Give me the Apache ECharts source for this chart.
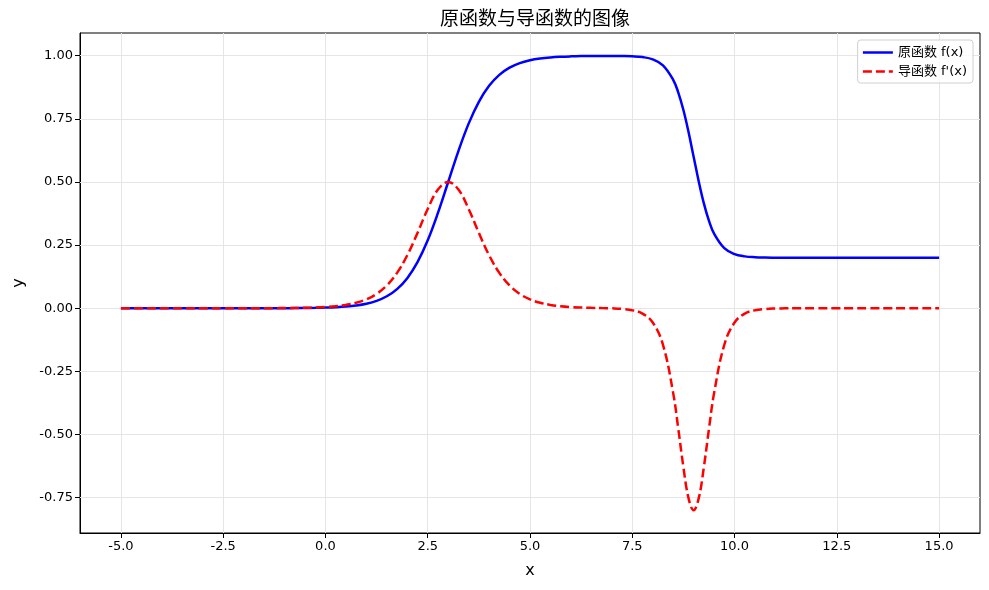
<!DOCTYPE html>
<html>
<head>
<meta charset="utf-8">
<script src="https://cdn.jsdelivr.net/npm/echarts@6/dist/echarts.min.js"></script>
<style>html,body{margin:0;padding:0;background:#fff}#c{width:989px;height:590px}</style>
</head>
<body>
<div id="c"></div>
<script>
const titleText = '原函数与导函数的图像';
const nameF = '原函数 f(x)';
const nameD = "导函数 f'(x)";
const xTicks = [-5, -2.5, 0, 2.5, 5, 7.5, 10, 12.5, 15];
const yTicks = [-0.75, -0.5, -0.25, 0, 0.25, 0.5, 0.75, 1.0];
const xs = [-5,-4.75,-4.5,-4.25,-4,-3.75,-3.5,-3.25,-3,-2.75,-2.5,-2.25,-2,-1.75,-1.5,-1.25,-1,-0.75,-0.5,-0.25,
  0,0.25,0.5,0.75,1,1.25,1.5,1.75,2,2.25,2.5,2.75,3,3.25,3.5,3.75,4,4.25,4.5,4.75,5,5.25,5.5,5.75,6,6.25,6.5,6.75,
  7,7.25,7.5,7.75,8,8.25,8.5,8.625,8.75,8.875,9,9.125,9.25,9.375,9.5,9.75,10,10.25,10.5,10.75,11,11.25,11.5,11.75,
  12,12.25,12.5,12.75,13,13.25,13.5,13.75,14,14.25,14.5,14.75,15];
const fVals = [0,0,0,0,0,0,0,0,0,0,0,0,0,0.0001,0.0001,0.0002,0.0003,0.0006,0.0009,0.0015,
  0.0025,0.0041,0.0067,0.0110,0.0180,0.0293,0.0474,0.0759,0.1192,0.1824,0.2689,0.3775,0.5,0.6225,0.7311,0.8176,0.8808,0.9241,0.9526,0.9707,0.9820,0.9890,0.9933,0.9959,0.9975,0.9985,0.9991,0.9993,
  0.9994,0.9991,0.9979,0.9946,0.9856,0.9620,0.9046,0.8541,0.7849,0.6980,0.6,0.5020,0.4152,0.3459,0.2954,0.2379,0.2144,0.2054,0.2020,0.2007,0.2003,0.2001,0.2000,0.2,
  0.2,0.2,0.2,0.2,0.2,0.2,0.2,0.2,0.2,0.2,0.2,0.2,0.2];
const dVals = [0,0,0,0,0,0,0,0,0,0,0,0.0001,0.0001,0.0001,0.0002,0.0004,0.0007,0.0011,0.0018,0.0030,
  0.0049,0.0081,0.0133,0.0217,0.0353,0.0569,0.0904,0.1402,0.2100,0.2983,0.3932,0.4700,0.5,0.4700,0.3932,0.2983,0.2100,0.1402,0.0904,0.0569,0.0353,0.0217,0.0133,0.0081,0.0049,0.0030,0.0017,0.0007,
  -0.0004,-0.0025,-0.0076,-0.0211,-0.0564,-0.1446,-0.3360,-0.4773,-0.6292,-0.7520,-0.8,-0.7520,-0.6292,-0.4773,-0.3360,-0.1446,-0.0564,-0.0211,-0.0079,-0.0029,-0.0011,-0.0004,-0.0001,0,
  0,0,0,0,0,0,0,0,0,0,0,0,0];

const fData = xs.map((x, i) => [x, fVals[i]]);
const dData = xs.map((x, i) => [x, dVals[i]]);
const font = 'DejaVu Sans';
const cjk = '"DejaVu Sans", "Noto Sans CJK SC"';

const chart = echarts.init(document.getElementById('c'), null, {renderer: 'canvas'});
chart.setOption({
  animation: false,
  backgroundColor: '#fff',
  title: {
    text: titleText, left: 530, top: 6, textAlign: 'center',
    textStyle: {fontFamily: cjk, fontSize: 19, fontWeight: 'normal', color: '#000'}
  },
  grid: {left: 80, right: 9, top: 33, bottom: 57, show: true, borderColor: '#000', borderWidth: 1, backgroundColor: 'transparent'},
  legend: {
    show: true, orient: 'vertical', right: 16, top: 40, itemWidth: 30, itemHeight: 12, itemGap: 6,
    padding: [6, 6, 5, 4], borderColor: '#d0d0d0', borderWidth: 1, borderRadius: 3, backgroundColor: 'rgba(255,255,255,0.8)',
    textStyle: {fontFamily: cjk, fontSize: 13, color: '#000'},
    itemStyle: {opacity: 0},
    lineStyle: {width: 2.5},
    data: [nameF, nameD]
  },
  xAxis: {
    type: 'value', min: -6, max: 16,
    name: 'x', nameLocation: 'middle', nameGap: 30,
    nameTextStyle: {fontFamily: font, fontSize: 16, color: '#000'},
    axisLine: {show: true, onZero: false, lineStyle: {color: '#000', width: 1}},
    axisTick: {show: true, inside: false, length: 5, customValues: xTicks, lineStyle: {color: '#000'}},
    axisLabel: {customValues: xTicks, formatter: v => v.toFixed(1), fontFamily: font, fontSize: 13, color: '#000', margin: 7},
    splitLine: {show: false}
  },
  yAxis: {
    type: 'value', min: -0.89, max: 1.09,
    name: 'y', nameLocation: 'middle', nameGap: 53,
    nameTextStyle: {fontFamily: font, fontSize: 16, color: '#000'},
    axisLine: {show: true, onZero: false, lineStyle: {color: '#000', width: 1}},
    axisTick: {show: true, inside: false, length: 5, customValues: yTicks, lineStyle: {color: '#000'}},
    axisLabel: {customValues: yTicks, formatter: v => v.toFixed(2), fontFamily: font, fontSize: 13, color: '#000', margin: 7},
    splitLine: {show: false}
  },
  series: [
    {
      name: 'grid', type: 'line', data: [[-6, 0]], symbol: 'none', silent: true,
      lineStyle: {opacity: 0}, z: 1,
      markLine: {
        z: 1, silent: true, symbol: 'none', label: {show: false}, animation: false,
        lineStyle: {color: '#e5e5e5', width: 1, type: 'solid'},
        data: xTicks.map(v => ({xAxis: v})).concat(yTicks.map(v => ({yAxis: v})))
      }
    },
    {
      name: nameF, type: 'line', data: fData, symbol: 'none', showSymbol: false,
      smooth: 0.4, z: 6,
      lineStyle: {color: '#0000ff', width: 2.5}, itemStyle: {color: '#0000ff'}
    },
    {
      name: nameD, type: 'line', data: dData, symbol: 'none', showSymbol: false,
      smooth: 0.4, z: 7,
      lineStyle: {color: '#ff0000', width: 2.5, type: [9, 4]}, itemStyle: {color: '#ff0000'}
    }
  ]
});
</script>
</body>
</html>
